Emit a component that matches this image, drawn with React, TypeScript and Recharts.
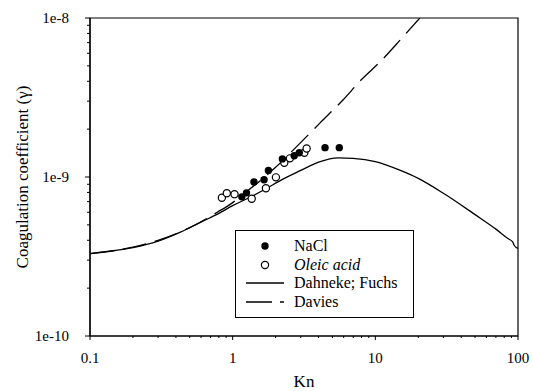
import {
  ComposedChart,
  Line,
  Scatter,
  XAxis,
  YAxis,
  Legend,
  ReferenceArea,
} from "recharts";

const FONT = '"Liberation Serif", "DejaVu Serif", "Times New Roman", serif';

// Dahneke; Fuchs (solid)
const fuchsKn = [0.1, 0.15, 0.2, 0.3, 0.43, 0.6, 0.8, 1.0, 1.3, 1.7, 2.2, 3, 4, 5.5, 7, 10, 15, 20, 30, 50, 70, 85, 92, 94, 100];
const fuchsGamma = [
  3.3e-10, 3.45e-10, 3.6e-10, 3.95e-10, 4.5e-10, 5.2e-10, 5.9e-10, 6.6e-10, 7.4e-10, 8.4e-10,
  9.6e-10, 1.1e-9, 1.24e-9, 1.32e-9, 1.31e-9, 1.25e-9, 1.1e-9, 9.8e-10, 7.9e-10, 5.8e-10,
  4.7e-10, 4.1e-10, 3.9e-10, 3.72e-10, 3.55e-10,
];

// Davies (dashed)
const daviesKn = [0.1, 0.2, 0.3, 0.5, 0.78, 1.0, 1.12, 1.5, 2, 2.74, 4.1, 5.93, 8, 10.8, 15, 20.5];
const daviesGamma = [
  3.3e-10, 3.62e-10, 4.0e-10, 4.8e-10, 6.0e-10, 6.9e-10, 7.5e-10, 9.2e-10, 1.15e-9, 1.52e-9,
  2.19e-9, 3.05e-9, 4.1e-9, 5.3e-9, 7.3e-9, 1e-8,
];

// measurements
const naclKn = [1.16, 1.25, 1.41, 1.66, 1.78, 2.23, 2.7, 2.93, 4.44, 5.59];
const naclGamma = [7.5e-10, 7.95e-10, 9.3e-10, 9.6e-10, 1.1e-9, 1.3e-9, 1.36e-9, 1.42e-9, 1.53e-9, 1.53e-9];
const oleicKn = [0.84, 0.91, 1.03, 1.36, 1.71, 2.01, 2.3, 2.52, 3.18, 3.3];
const oleicGamma = [7.4e-10, 7.9e-10, 7.8e-10, 7.3e-10, 8.5e-10, 9.95e-10, 1.23e-9, 1.31e-9, 1.42e-9, 1.51e-9];

// axis ticks
const xMajor = [0.1, 1, 10, 100];
const xMajorLabels = ["0.1", "1", "10", "100"];
const xMinor = [
  0.2, 0.3, 0.4, 0.5, 0.6, 0.7, 0.8, 0.9, 2, 3, 4, 5, 6, 7, 8, 9, 20, 30, 40, 50, 60, 70, 80, 90,
];
const yMajor = [1e-10, 1e-9, 1e-8];
const yMajorLabels = ["1e-10", "1e-9", "1e-8"];
const yMinor = [
  2e-10, 3e-10, 4e-10, 5e-10, 6e-10, 7e-10, 8e-10, 9e-10, 2e-9, 3e-9, 4e-9, 5e-9, 6e-9, 7e-9, 8e-9, 9e-9,
];

const zip = (xs: number[], ys: number[]) => xs.map((x, i) => ({ x, y: ys[i] }));
const fuchsData = zip(fuchsKn, fuchsGamma);
const daviesData = zip(daviesKn, daviesGamma);
const naclData = zip(naclKn, naclGamma);
const oleicData = zip(oleicKn, oleicGamma);

const xTicks = [...xMajor, ...xMinor].sort((a, b) => a - b);
const yTicks = [...yMajor, ...yMinor].sort((a, b) => a - b);

function XTick(props: any) {
  const { x, y, payload } = props;
  const idx = xMajor.indexOf(payload.value);
  const major = idx >= 0;
  return (
    <g>
      <line x1={x} x2={x} y1={y} y2={y + (major ? 4 : 2)} stroke="#000" strokeWidth={1} />
      {major && (
        <text x={x} y={y + 27} textAnchor="middle" fontSize={15} fontFamily={FONT} fill="#000">
          {xMajorLabels[idx]}
        </text>
      )}
    </g>
  );
}

function YTick(props: any) {
  const { x, y, payload } = props;
  const idx = yMajor.indexOf(payload.value);
  const major = idx >= 0;
  return (
    <g>
      <line x1={x} x2={x - (major ? 5 : 3)} y1={y} y2={y} stroke="#000" strokeWidth={1} />
      {major && (
        <text x={x - 21} y={y + 5} textAnchor="end" fontSize={15} fontFamily={FONT} fill="#000">
          {yMajorLabels[idx]}
        </text>
      )}
    </g>
  );
}

const FilledDot = (p: any) => <circle cx={p.cx} cy={p.cy} r={3.7} fill="#000" />;
const OpenDot = (p: any) => (
  <circle cx={p.cx} cy={p.cy} r={3.6} fill="#fff" stroke="#000" strokeWidth={1.2} />
);

const legendRows = [
  { label: "NaCl", kind: "filled" },
  { label: "Oleic acid", kind: "open" },
  { label: "Dahneke; Fuchs", kind: "solid" },
  { label: "Davies", kind: "dashed" },
];

function LegendBox() {
  return (
    <div
      style={{
        width: 179,
        height: 88,
        boxSizing: "border-box",
        border: "1px solid #000",
        background: "#fff",
        paddingTop: 6,
        fontFamily: FONT,
        fontSize: 16,
        color: "#000",
      }}
    >
      {legendRows.map((r) => (
        <div key={r.label} style={{ display: "flex", alignItems: "center", height: 18.5 }}>
          <svg width={58} height={18} style={{ flex: "none" }}>
            {r.kind === "filled" && <circle cx={29} cy={9} r={3.7} fill="#000" />}
            {r.kind === "open" && (
              <circle cx={29} cy={9} r={3.6} fill="#fff" stroke="#000" strokeWidth={1.2} />
            )}
            {r.kind === "solid" && <line x1={10} x2={48} y1={9} y2={9} stroke="#000" strokeWidth={1.3} />}
            {r.kind === "dashed" && (
              <line x1={10} x2={48} y1={9} y2={9} stroke="#000" strokeWidth={1.3} strokeDasharray="26 8" />
            )}
          </svg>
          <span style={{ fontStyle: r.kind === "open" ? "italic" : "normal", lineHeight: 1 }}>
            {r.label}
          </span>
        </div>
      ))}
    </div>
  );
}

export default function App() {
  return (
    <div style={{ position: "absolute", left: 0, top: 0, background: "#fff", fontFamily: FONT }}>
      <ComposedChart
        width={533}
        height={391}
        margin={{ top: 18, right: 15, bottom: 0, left: 0 }}
        style={{ fontFamily: FONT }}
      >
        <XAxis
          type="number"
          dataKey="x"
          scale="log"
          domain={[0.1, 100]}
          allowDataOverflow
          ticks={xTicks}
          interval={0}
          tickSize={0}
          tickMargin={0}
          tick={<XTick />}
          height={55}
          axisLine={{ stroke: "#000", strokeWidth: 1.2 }}
          label={(p: any) => {
            const vb = p.viewBox;
            return (
              <text
                x={vb.x + vb.width / 2}
                y={vb.y + 51}
                textAnchor="middle"
                fontSize={17}
                fontFamily={FONT}
                fill="#000"
              >
                Kn
              </text>
            );
          }}
        />
        <YAxis
          type="number"
          dataKey="y"
          scale="log"
          domain={[1e-10, 1e-8]}
          allowDataOverflow
          ticks={yTicks}
          interval={0}
          tickSize={0}
          tickMargin={0}
          tick={<YTick />}
          width={90}
          axisLine={{ stroke: "#000", strokeWidth: 1.2 }}
          label={(p: any) => {
            const vb = p.viewBox;
            const cx = vb.x + 22;
            const cy = vb.y + vb.height / 2;
            return (
              <text
                x={cx}
                y={cy}
                transform={`rotate(-90, ${cx}, ${cy})`}
                textAnchor="middle"
                dominantBaseline="central"
                fontSize={17}
                fontFamily={FONT}
                fill="#000"
              >
                Coagulation coefficient (γ)
              </text>
            );
          }}
        />
        <ReferenceArea
          x1={0.1}
          x2={100}
          y1={1e-10}
          y2={1e-8}
          fill="none"
          fillOpacity={0}
          stroke="#000"
          strokeWidth={1.2}
          ifOverflow="visible"
        />
        <Line
          data={fuchsData}
          dataKey="y"
          type="monotone"
          stroke="#000"
          strokeWidth={1.3}
          dot={false}
          activeDot={false}
          isAnimationActive={false}
        />
        <Line
          data={daviesData}
          dataKey="y"
          type="monotone"
          stroke="#000"
          strokeWidth={1.3}
          strokeDasharray="24 9"
          dot={false}
          activeDot={false}
          isAnimationActive={false}
        />
        <Scatter data={oleicData} dataKey="y" shape={OpenDot} isAnimationActive={false} />
        <Scatter data={naclData} dataKey="y" shape={FilledDot} isAnimationActive={false} />
        <Legend
          layout="vertical"
          align="center"
          verticalAlign="middle"
          content={() => <LegendBox />}
          wrapperStyle={{ left: 235, top: 230, width: 179 }}
        />
      </ComposedChart>
    </div>
  );
}
